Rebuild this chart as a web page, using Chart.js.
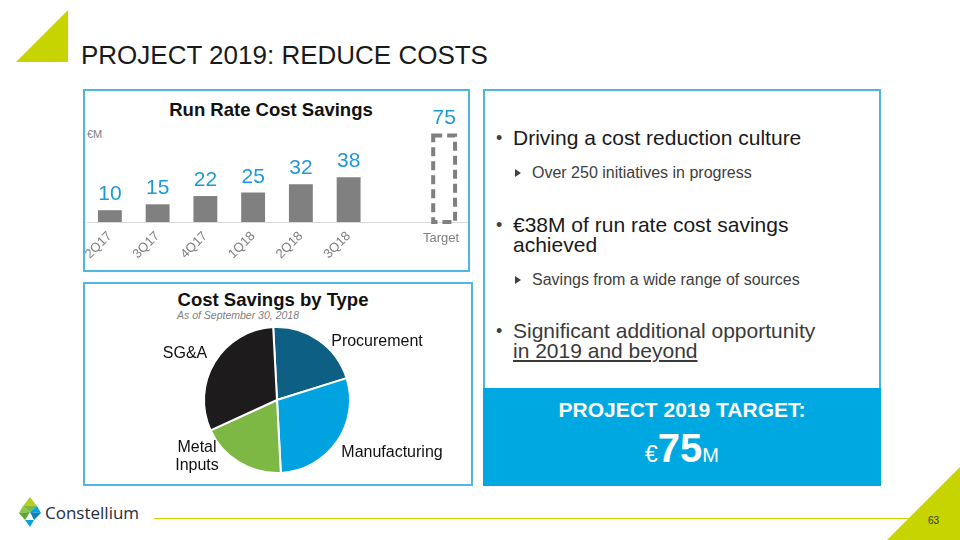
<!DOCTYPE html>
<html>
<head>
<meta charset="utf-8">
<script src="https://cdn.jsdelivr.net/npm/chart.js@4.4.0/dist/chart.umd.min.js"></script>
<style>
    body{margin:0;width:960px;height:540px;position:relative;overflow:hidden;background:#fff;font-family:"Liberation Sans",Arial,sans-serif;}
    .abs{position:absolute;white-space:nowrap;}
    .box{position:absolute;box-sizing:border-box;border:2px solid #4fb6e2;}
    .bul{position:absolute;color:#1a1a1a;font-size:21px;line-height:20px;}
    .bul:before{content:"\2022";position:absolute;left:-17px;top:0;font-size:18px;color:#404040;}
    .sub{position:absolute;color:#404040;font-size:16px;line-height:20px;}
    .sub:before{content:"";position:absolute;left:-17px;top:6px;border-left:6px solid #404040;border-top:4px solid transparent;border-bottom:4px solid transparent;}
</style>
</head>
<body>
<svg class="abs" style="left:0;top:0" width="960" height="540">
    <polygon points="16,62 68,10 68,62" fill="#c8d400"/>
    <polygon points="887,540 960,467 960,540" fill="#c8d400"/>
    <line x1="154" y1="518.5" x2="915" y2="518.5" stroke="#c8d400" stroke-width="1"/>
    <!-- logo -->
    <polygon points="30,497 37,506 23,506" fill="#b5cf2a"/>
    <polygon points="23,506 37,506 30,512" fill="#7cb843"/>
    <polygon points="30,512 37,506 41,513" fill="#00a3e0"/>
    <polygon points="19,513 23,506 30,512" fill="#8dc63f"/>
    <polygon points="19,513 30,512 25,520" fill="#5aa832"/>
    <polygon points="30,512 41,513 34,520" fill="#0d7fb8"/>
    <polygon points="25,520 34,520 30,527" fill="#00a3e0"/>
</svg>
<div class="abs" style="left:81px;top:40px;font-size:26px;line-height:30px;color:#1a1a1a;">PROJECT 2019: REDUCE COSTS</div>

<div class="box" style="left:83px;top:89px;width:387px;height:183px;"></div>
<div class="box" style="left:83px;top:282px;width:390px;height:204px;"></div>
<div class="box" style="left:483px;top:89px;width:398px;height:301px;"></div>
<div class="abs" style="left:483px;top:388px;width:398px;height:98px;background:#00a8e1;"></div>

<div class="abs" style="left:121px;top:98px;width:300px;text-align:center;font-weight:bold;font-size:18.5px;line-height:24px;color:#111;">Run Rate Cost Savings</div>
<div class="abs" style="left:87px;top:127px;font-size:11px;line-height:14px;color:#808080;">€M</div>
<div class="abs" style="left:123px;top:289px;width:300px;text-align:center;font-weight:bold;font-size:18.5px;line-height:22px;color:#111;">Cost Savings by Type</div>
<div class="abs" style="left:138px;top:308px;width:200px;text-align:center;font-style:italic;font-size:10.5px;line-height:14px;color:#808080;">As of September 30, 2018</div>

<canvas id="bar-chart" class="abs" style="left:84px;top:90px;" width="384" height="180"></canvas>
<canvas id="pie-chart" class="abs" style="left:84px;top:283px;" width="386" height="200"></canvas>

<div class="bul" style="left:513px;top:128px;">Driving a cost reduction culture</div>
<div class="sub" style="left:532px;top:163px;">Over 250 initiatives in progress</div>
<div class="bul" style="left:513px;top:215px;">€38M of run rate cost savings<br>achieved</div>
<div class="sub" style="left:532px;top:270px;">Savings from a wide range of sources</div>
<div class="bul" style="left:513px;top:321px;color:#3a3a3a;">Significant additional opportunity<br><span style="text-decoration:underline;">in 2019 and beyond</span></div>

<div class="abs" style="left:483px;top:398px;width:398px;text-align:center;color:#fff;font-weight:bold;font-size:21px;line-height:24px;">PROJECT 2019 TARGET:</div>
<div class="abs" style="left:483px;top:428px;width:398px;text-align:center;color:#fff;line-height:40px;"><span style="font-size:23px;">€</span><span style="font-size:40px;font-weight:bold;">75</span><span style="font-size:20px;">M</span></div>

<div class="abs" style="left:45px;top:502px;font-family:'Open Sans';font-size:17px;line-height:22px;color:#1f2d3d;">Constellium</div>
<div class="abs" style="left:928px;top:515px;font-size:10px;line-height:12px;color:#333;">63</div>

<script>
// run rate cost savings, €M
var barCategories = ['2Q17', '3Q17', '4Q17', '1Q18', '2Q18', '3Q18', '', 'Target'];
var barValues = [10, 15, 22, 25, 32, 38, null, 75];
// cost savings by type
var pieCategories = ['Procurement', 'Manufacturing', 'Metal Inputs', 'SG&A'];
var pieValues = [21, 29, 19, 31];

init();
function init(){
    //柱状图
    showBarChart();
    //饼状图
    showPieChart();
}

function showBarChart(){
    var labelPlugin = {
        id: 'barLabels',
        afterDatasetsDraw: function(chart){
            var ctx = chart.ctx;
            var meta = chart.getDatasetMeta(0);
            var area = chart.chartArea;
            var yZero = chart.scales.y.getPixelForValue(0);
            ctx.save();
            // baseline
            ctx.strokeStyle = '#d9d9d9';
            ctx.lineWidth = 1;
            ctx.beginPath();
            ctx.moveTo(area.left + 1, Math.round(yZero) + 0.5);
            ctx.lineTo(area.right, Math.round(yZero) + 0.5);
            ctx.stroke();
            meta.data.forEach(function(bar, i){
                var v = barValues[i];
                var cat = barCategories[i];
                if (cat === 'Target') {
                    ctx.save();
                    ctx.strokeStyle = '#7f7f7f';
                    ctx.lineWidth = 4;
                    ctx.setLineDash([9, 5]);
                    var w = bar.width - 2;
                    ctx.strokeRect(bar.x - w / 2, bar.y + 2, w, bar.base - bar.y - 2);
                    ctx.restore();
                    ctx.fillStyle = '#808080';
                    ctx.font = '13px "Liberation Sans"';
                    ctx.textAlign = 'center';
                    ctx.textBaseline = 'middle';
                    ctx.fillText(cat, bar.x - 3, yZero + 16);
                } else if (cat !== '') {
                    ctx.save();
                    ctx.translate(bar.x, yZero + 12);
                    ctx.rotate(-Math.PI / 4);
                    ctx.fillStyle = '#808080';
                    ctx.font = '13px "Liberation Sans"';
                    ctx.textAlign = 'right';
                    ctx.textBaseline = 'middle';
                    ctx.fillText(cat, 0, 0);
                    ctx.restore();
                }
                if (v == null) return;
                ctx.fillStyle = '#1d9ad6';
                ctx.font = '21px "Liberation Sans"';
                ctx.textAlign = 'center';
                ctx.textBaseline = 'alphabetic';
                ctx.fillText(String(v), bar.x, bar.y - 10);
            });
            ctx.restore();
        }
    };
    new Chart(document.getElementById('bar-chart'), {
        type: 'bar',
        data: {
            labels: barCategories,
            datasets: [{
                data: barValues,
                backgroundColor: barCategories.map(function(c){ return c === 'Target' ? 'rgba(0,0,0,0)' : '#808080'; }),
                borderWidth: 0,
                barPercentage: 0.5,
                categoryPercentage: 1
            }]
        },
        options: {
            responsive: false,
            animation: false,
            layout: { padding: { left: 2, right: 0, top: 14, bottom: 48 } },
            scales: {
                x: { display: false },
                y: { display: false, min: 0, max: 100 }
            },
            plugins: { legend: { display: false }, tooltip: { enabled: false } }
        },
        plugins: [labelPlugin]
    });
}

function showPieChart(){
    // label anchors relative to the pie centre
    var labelOffsets = {
        'Procurement': [[100, -58]],
        'Manufacturing': [[115, 53]],
        'Metal Inputs': [[-80, 48], [-80, 66]],
        'SG&A': [[-92, -46]]
    };
    var labelPlugin = {
        id: 'pieLabels',
        afterDatasetsDraw: function(chart){
            var ctx = chart.ctx;
            var arc = chart.getDatasetMeta(0).data[0];
            ctx.save();
            ctx.fillStyle = '#111';
            ctx.font = '16px "Liberation Sans"';
            ctx.textAlign = 'center';
            ctx.textBaseline = 'middle';
            pieCategories.forEach(function(name){
                var offs = labelOffsets[name];
                var parts = offs.length > 1 ? name.split(' ') : [name];
                parts.forEach(function(p, k){
                    ctx.fillText(p, arc.x + offs[k][0], arc.y + offs[k][1]);
                });
            });
            ctx.restore();
        }
    };
    new Chart(document.getElementById('pie-chart'), {
        type: 'pie',
        data: {
            labels: pieCategories,
            datasets: [{
                data: pieValues,
                backgroundColor: ['#0d5f84', '#00a3e0', '#7cb843', '#1d1b1c'],
                borderColor: '#ffffff',
                borderWidth: 2
            }]
        },
        options: {
            responsive: false,
            animation: false,
            rotation: -3,
            layout: { padding: { left: 119, right: 119, top: 43, bottom: 9 } },
            plugins: { legend: { display: false }, tooltip: { enabled: false } }
        },
        plugins: [labelPlugin]
    });
}
</script>
</body>
</html>
